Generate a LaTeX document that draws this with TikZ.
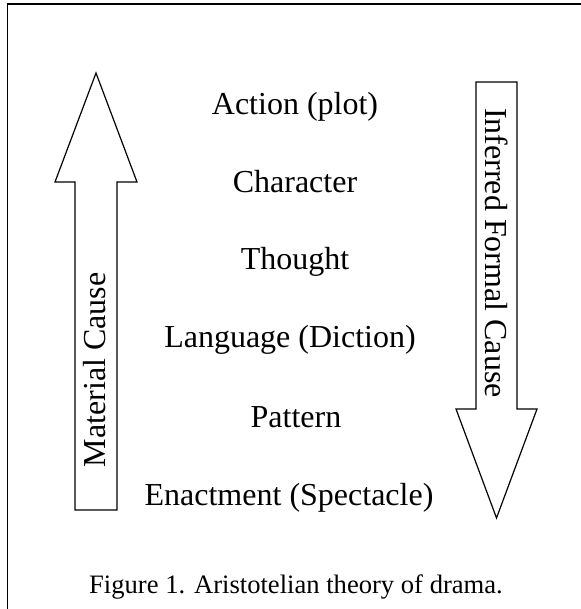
\documentclass[tikz,border=0pt]{standalone}
\usepackage{fontspec}
\setmainfont{Liberation Serif}

\begin{document}
\begin{tikzpicture}[
    x=0.5pt, y=-0.5pt,
    stage/.style={
        anchor=base,
        inner sep=0pt,
        font=\fontsize{16}{19}\selectfont
    },
    cause/.style={
        inner sep=0pt,
        font=\fontsize{16}{19}\selectfont,
        rotate=#1
    },
    bigarrow/.style={draw, line width=0.6pt, line join=miter}
]
    \useasboundingbox (0,0) rectangle (580,609);
    \draw[line width=0.8pt] (7.5,615) -- (7.5,4) -- (590,4);

    % material cause, pointing up
    \draw[bigarrow] (75,510) -- (75,182) -- (55,182) -- (96,73) -- (137,182) -- (117,182) -- (117,510) -- cycle;
    % formal cause, pointing down
    \draw[bigarrow] (476,82) -- (517,82) -- (517,409) -- (537,409) -- (496.5,518) -- (456,409) -- (476,409) -- cycle;

    \node[stage] (action) at (295,115) {Action (plot)};
    \node[stage] (character) at (295,192) {Character};
    \node[stage] (thought) at (295,269) {Thought};
    \node[stage] (language) at (290,347) {Language (Diction)};
    \node[stage] (pattern) at (296,427) {Pattern};
    \node[stage] (enactment) at (289,505) {Enactment (Spectacle)};

    \node[cause=90] (material) at (95,370) {Material Cause};
    \node[cause=-90] (formal) at (497,253) {Inferred Formal Cause};

    \node[stage, font=\fontsize{13.3}{16}\selectfont] (caption) at (296,593) {Figure 1. Aristotelian theory of drama.};
\end{tikzpicture}
\end{document}
